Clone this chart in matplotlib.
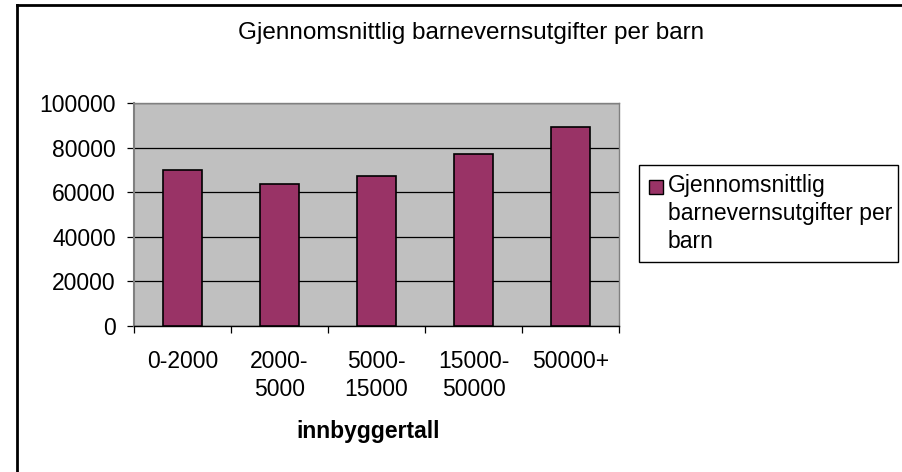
import matplotlib
matplotlib.use("Agg")
import matplotlib.pyplot as plt
from matplotlib.patches import Rectangle
from matplotlib.lines import Line2D
import numpy as np

plt.rcParams['font.family'] = ['Liberation Sans', 'DejaVu Sans']

# data
categories = ['0-2000', '2000-\n5000', '5000-\n15000', '15000-\n50000', '50000+']
values = [69800, 63900, 67200, 77100, 89400]
series_name = 'Gjennomsnittlig\nbarnevernsutgifter per\nbarn'
title = 'Gjennomsnittlig barnevernsutgifter per barn'
xlabel = 'innbyggertall'
bar_color = '#993366'

W, H = 903, 472
fig = plt.figure(figsize=(W / 100, H / 100), dpi=100)
fig.patch.set_facecolor('white')

# plot area in pixels: x 134..619, y 103..326
ax = fig.add_axes([134 / W, 1 - 326 / H, (619 - 134) / W, (326 - 103) / H])
ax.set_facecolor('#c0c0c0')

x = np.arange(len(categories))
ax.bar(x, values, width=0.4, color=bar_color, edgecolor='black', linewidth=1.2, zorder=3)

ax.set_xlim(-0.5, len(categories) - 0.5)
ax.set_ylim(0, 100000)
ax.set_yticks(np.arange(0, 100001, 20000))
ax.yaxis.grid(True, color='black', linewidth=0.9, zorder=1)
ax.set_axisbelow(True)

# labels at centres, tick marks at category borders
ax.set_xticks(x)
ax.set_xticklabels(categories, fontsize=16.5, linespacing=1.3)
ax.tick_params(axis='x', which='major', length=0, pad=17)
ax.set_xticks(np.arange(-0.5, len(categories), 1), minor=True)
ax.tick_params(axis='x', which='minor', length=5, width=0.9, color='black')
ax.tick_params(axis='y', length=5, width=0.9, color='black', labelsize=16.5, pad=8)

for side in ['top', 'right']:
    ax.spines[side].set_color('#808080')
    ax.spines[side].set_linewidth(1.0)
ax.spines['left'].set_color('#808080')
ax.spines['left'].set_linewidth(1.5)
ax.spines['bottom'].set_color('black')
ax.spines['bottom'].set_linewidth(1.0)

ax.set_xlabel(xlabel, fontsize=16.5, fontweight='bold', labelpad=14)
ax.xaxis.label.set_x(0.482)

fig.text(471 / W, 1 - 33 / H, title, fontsize=17.5, ha='center', va='center')

# legend box drawn by hand so the marker sits by the first line
fig.add_artist(Rectangle((639 / W, 1 - 262 / H), (898 - 639) / W, (262 - 165) / H,
                         transform=fig.transFigure, facecolor='white',
                         edgecolor='black', linewidth=1.0))
fig.add_artist(Rectangle((649 / W, 1 - 194 / H), 14 / W, 14 / H,
                         transform=fig.transFigure, facecolor=bar_color,
                         edgecolor='black', linewidth=1.0))
fig.text(668 / W, 1 - 174 / H, series_name, fontsize=16.5, ha='left', va='top',
         linespacing=1.28)

# outer chart frame (only top and left edges visible)
fig.add_artist(Line2D([17 / W, 17 / W], [0, 1 - 5 / H], transform=fig.transFigure,
                      color='black', linewidth=2))
fig.add_artist(Line2D([17 / W, 1], [1 - 5 / H, 1 - 5 / H], transform=fig.transFigure,
                      color='black', linewidth=2))

fig.savefig('out.png', dpi=100)
